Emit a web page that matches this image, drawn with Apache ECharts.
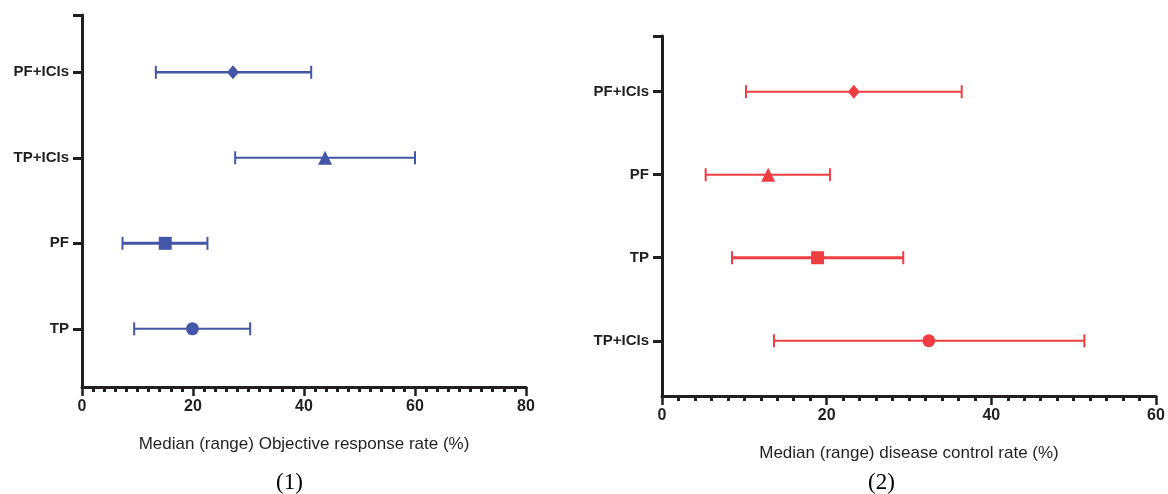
<!DOCTYPE html>
<html>
<head>
<meta charset="utf-8">
<script src="https://cdn.jsdelivr.net/npm/echarts@6/dist/echarts.min.js"></script>
<style>
  html, body { margin: 0; padding: 0; background: #fff; }
  #chart { width: 1168px; height: 494px; }
</style>
</head>
<body>
<div id="chart"></div>
<script>
// panel 1 : objective response rate, rows from bottom to top
var orrGroups = ['TP', 'PF', 'TP+ICIs', 'PF+ICIs'];
var orrMedian = [19.9, 15.0, 43.8, 27.2];
var orrLow = [9.4, 7.3, 27.6, 13.3];
var orrHigh = [30.3, 22.6, 60.0, 41.3];
var orrTicks = [0, 20, 40, 60, 80];

// panel 2 : disease control rate, rows from bottom to top
var dcrGroups = ['TP+ICIs', 'TP', 'PF', 'PF+ICIs'];
var dcrMedian = [32.4, 18.9, 12.9, 23.3];
var dcrLow = [13.6, 8.5, 5.3, 10.2];
var dcrHigh = [51.3, 29.3, 20.4, 36.4];
var dcrTicks = [0, 20, 40, 60];

var BLUE = '#4356a8';
var RED = '#ef3e42';
var INK = '#231f20';
var orrSymbols = ['circle', 'rect', 'triangle', 'diamond'];
var dcrSymbols = ['circle', 'rect', 'triangle', 'diamond'];
var orrWidths = [2, 3, 2, 2.5];
var dcrWidths = [2, 3, 2, 2];

function barData(low, high, widths) {
  return low.map(function (v, i) { return [i + 1, v, high[i], widths[i]]; });
}
function pointData(median, symbols, sizes) {
  return median.map(function (v, i) {
    return { value: [v, i + 1], symbol: symbols[i], symbolSize: sizes[symbols[i]] };
  });
}

function errorBar(color) {
  return function (params, api) {
    var y = api.value(0);
    var lo = api.coord([api.value(1), y]);
    var hi = api.coord([api.value(2), y]);
    var w = api.value(3);
    var h = 6.5;
    return {
      type: 'group',
      children: [
        { type: 'line', shape: { x1: lo[0], y1: lo[1], x2: hi[0], y2: hi[1] }, style: { stroke: color, lineWidth: w } },
        { type: 'line', shape: { x1: lo[0], y1: lo[1] - h, x2: lo[0], y2: lo[1] + h }, style: { stroke: color, lineWidth: 2 } },
        { type: 'line', shape: { x1: hi[0], y1: hi[1] - h, x2: hi[0], y2: hi[1] + h }, style: { stroke: color, lineWidth: 2 } }
      ]
    };
  };
}

function xAxisOf(gridIndex, ticks, name) {
  return {
    type: 'value', gridIndex: gridIndex,
    min: ticks[0], max: ticks[ticks.length - 1], interval: ticks[1] - ticks[0],
    name: name, nameLocation: 'middle', nameGap: 49,
    nameTextStyle: { fontFamily: 'Liberation Sans', fontSize: 17, color: INK },
    axisLine: { lineStyle: { color: INK, width: 3 } },
    axisTick: { length: 9, lineStyle: { color: INK, width: 2.5 } },
    minorTick: { show: true, splitNumber: 10, length: 5, lineStyle: { color: INK, width: 3 } },
    axisLabel: { margin: 12, fontFamily: 'Liberation Sans', fontWeight: 'bold', fontSize: 16, color: INK },
    splitLine: { show: false }, minorSplitLine: { show: false }
  };
}

function yAxisOf(gridIndex, groups, min, max) {
  return {
    type: 'value', gridIndex: gridIndex, min: min, max: max,
    axisLine: { show: true, lineStyle: { color: INK, width: 3 } },
    axisTick: { show: true, customValues: [1, 2, 3, 4, max], length: 9, lineStyle: { color: INK, width: 3 } },
    axisLabel: {
      customValues: [1, 2, 3, 4], margin: 13,
      fontFamily: 'Liberation Sans', fontWeight: 'bold', fontSize: 15, color: INK,
      formatter: function (v) { return groups[Math.round(v) - 1]; }
    },
    splitLine: { show: false }
  };
}

var orrSizes = { circle: 13, rect: 13, triangle: 14, diamond: [12, 14] };
var dcrSizes = { circle: 13, rect: 13, triangle: 14, diamond: [12, 14] };

var chart = echarts.init(document.getElementById('chart'));
chart.setOption({
  animation: false,
  grid: [
    { left: 82, top: 15, width: 444, height: 372 },
    { left: 662, top: 36, width: 494, height: 360 }
  ],
  xAxis: [
    xAxisOf(0, orrTicks, 'Median (range) Objective response rate (%)'),
    xAxisOf(1, dcrTicks, 'Median (range) disease control rate (%)')
  ],
  yAxis: [
    yAxisOf(0, orrGroups, 0.32, 4.67),
    yAxisOf(1, dcrGroups, 0.335, 4.67)
  ],
  series: [
    {
      type: 'custom', xAxisIndex: 0, yAxisIndex: 0,
      renderItem: errorBar(BLUE), encode: { x: [1, 2], y: 0 },
      data: barData(orrLow, orrHigh, orrWidths)
    },
    {
      type: 'scatter', xAxisIndex: 0, yAxisIndex: 0,
      itemStyle: { color: BLUE, opacity: 1 },
      data: pointData(orrMedian, orrSymbols, orrSizes)
    },
    {
      type: 'custom', xAxisIndex: 1, yAxisIndex: 1,
      renderItem: errorBar(RED), encode: { x: [1, 2], y: 0 },
      data: barData(dcrLow, dcrHigh, dcrWidths)
    },
    {
      type: 'scatter', xAxisIndex: 1, yAxisIndex: 1,
      itemStyle: { color: RED, opacity: 1 },
      data: pointData(dcrMedian, dcrSymbols, dcrSizes)
    }
  ],
  graphic: [
    { type: 'text', left: 276, top: 471, style: { text: '(1)', fontFamily: 'Liberation Serif', fontSize: 23, fill: '#000' } },
    { type: 'text', left: 868, top: 471, style: { text: '(2)', fontFamily: 'Liberation Serif', fontSize: 23, fill: '#000' } }
  ]
});
</script>
</body>
</html>
